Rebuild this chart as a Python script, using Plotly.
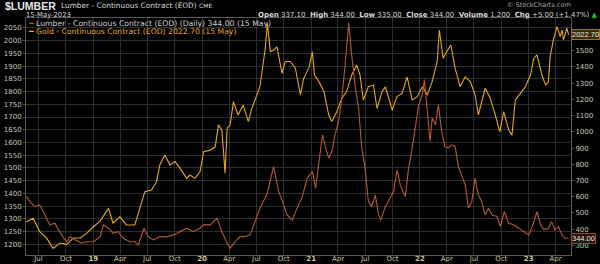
import plotly.graph_objects as go

# ---------------- data ----------------
gold_dates = [
    "2018-05-22", "2018-06-13", "2018-07-05", "2018-07-28", "2018-08-19", "2018-09-11",
    "2018-10-04", "2018-10-26", "2018-11-18", "2018-12-10", "2018-12-27", "2019-01-24",
    "2019-02-21", "2019-03-08", "2019-03-31", "2019-04-22", "2019-05-20", "2019-06-01",
    "2019-06-23", "2019-07-15", "2019-08-01", "2019-08-12", "2019-08-29", "2019-09-15",
    "2019-10-02", "2019-10-19", "2019-11-10", "2019-11-21", "2019-12-08", "2019-12-25",
    "2020-01-06", "2020-01-28", "2020-02-14", "2020-02-25", "2020-03-07", "2020-03-12",
    "2020-03-18", "2020-03-25", "2020-04-04", "2020-04-15", "2020-05-01", "2020-05-18",
    "2020-06-04", "2020-06-16", "2020-06-27", "2020-07-13", "2020-07-31", "2020-08-07",
    "2020-08-17", "2020-08-28", "2020-09-08", "2020-09-25", "2020-10-06", "2020-10-23",
    "2020-11-09", "2020-11-26", "2020-12-07", "2020-12-24", "2021-01-05", "2021-01-12",
    "2021-01-27", "2021-02-13", "2021-03-01", "2021-03-11", "2021-03-28", "2021-04-14",
    "2021-04-30", "2021-05-17", "2021-06-03", "2021-06-14", "2021-06-25", "2021-07-12",
    "2021-07-29", "2021-08-10", "2021-08-27", "2021-09-07", "2021-09-30", "2021-10-16",
    "2021-11-02", "2021-11-19", "2021-12-06", "2021-12-23", "2022-01-09", "2022-01-26",
    "2022-02-11", "2022-02-28", "2022-03-07", "2022-03-20", "2022-04-01", "2022-04-15",
    "2022-04-29", "2022-05-16", "2022-06-02", "2022-06-19", "2022-07-05", "2022-07-16",
    "2022-08-08", "2022-08-25", "2022-09-11", "2022-09-26", "2022-10-09", "2022-10-26",
    "2022-11-06", "2022-11-17", "2022-12-04", "2022-12-21", "2023-01-07", "2023-01-18",
    "2023-01-29", "2023-02-16", "2023-02-27", "2023-03-08", "2023-03-14", "2023-03-25",
    "2023-04-06", "2023-04-17", "2023-04-23", "2023-04-28", "2023-05-09", "2023-05-15",
]
gold_values = [
    1289, 1302, 1250, 1225, 1184, 1205,
    1200, 1225, 1225, 1244, 1263, 1292,
    1341, 1283, 1308, 1276, 1276, 1322,
    1407, 1413, 1446, 1512, 1551, 1512,
    1525, 1499, 1459, 1472, 1459, 1485,
    1564, 1570, 1583, 1669, 1649, 1577,
    1479, 1656, 1669, 1760, 1708, 1747,
    1682, 1734, 1767, 1819, 1970, 2068,
    1957, 1963, 1976, 1872, 1918, 1918,
    1892, 1787, 1852, 1892, 1957, 1865,
    1839, 1800, 1708, 1682, 1721, 1774,
    1800, 1865, 1904, 1865, 1767, 1819,
    1826, 1734, 1800, 1819, 1728, 1780,
    1793, 1858, 1767, 1780, 1819, 1787,
    1839, 1918, 2042, 1931, 1957, 1983,
    1892, 1819, 1858, 1839, 1787, 1708,
    1813, 1774, 1708, 1642, 1721, 1649,
    1629, 1767, 1793, 1819, 1865, 1931,
    1944, 1858, 1826, 1837, 1937, 2003,
    2055, 2016, 2042, 2003, 2049, 2022.7,
]

lumber_dates = [
    "2018-05-22", "2018-06-02", "2018-06-19", "2018-07-05", "2018-07-22", "2018-08-08",
    "2018-08-25", "2018-09-06", "2018-09-23", "2018-10-04", "2018-10-15", "2018-11-01",
    "2018-11-24", "2018-12-10", "2019-01-02", "2019-01-24", "2019-02-04", "2019-02-21",
    "2019-03-08", "2019-03-25", "2019-04-11", "2019-05-03", "2019-05-20", "2019-06-01",
    "2019-06-12", "2019-06-20", "2019-07-04", "2019-07-21", "2019-08-12", "2019-09-05",
    "2019-09-27", "2019-10-19", "2019-11-10", "2019-12-02", "2019-12-25", "2020-01-06",
    "2020-01-28", "2020-02-20", "2020-03-07", "2020-03-23", "2020-04-04", "2020-04-21",
    "2020-05-07", "2020-05-24", "2020-06-10", "2020-06-27", "2020-07-13", "2020-08-05",
    "2020-08-28", "2020-09-14", "2020-09-25", "2020-10-12", "2020-10-29", "2020-11-15",
    "2020-12-02", "2020-12-19", "2021-01-05", "2021-01-16", "2021-01-27", "2021-02-08",
    "2021-02-19", "2021-03-01", "2021-03-11", "2021-03-22", "2021-04-03", "2021-04-14",
    "2021-04-25", "2021-05-07", "2021-05-17", "2021-05-28", "2021-06-09", "2021-06-20",
    "2021-07-01", "2021-07-12", "2021-07-23", "2021-08-04", "2021-08-15", "2021-08-23",
    "2021-09-07", "2021-09-24", "2021-10-05", "2021-10-16", "2021-10-27", "2021-11-13",
    "2021-11-24", "2021-12-06", "2021-12-17", "2021-12-28", "2022-01-09", "2022-01-16",
    "2022-01-26", "2022-02-04", "2022-02-11", "2022-02-22", "2022-03-04", "2022-03-15",
    "2022-03-26", "2022-04-07", "2022-04-18", "2022-04-29", "2022-05-10", "2022-05-21",
    "2022-06-02", "2022-06-13", "2022-06-24", "2022-07-05", "2022-07-16", "2022-07-27",
    "2022-08-08", "2022-08-19", "2022-08-31", "2022-09-17", "2022-09-28", "2022-10-11",
    "2022-10-26", "2022-11-12", "2022-11-29", "2022-12-15", "2023-01-01", "2023-01-13",
    "2023-01-29", "2023-02-10", "2023-02-21", "2023-03-08", "2023-03-19", "2023-03-30",
    "2023-04-11", "2023-04-23", "2023-05-03", "2023-05-15",
]
lumber_values = [
    601, 570, 539, 550, 488, 427,
    437, 396, 344, 323, 354, 334,
    314, 323, 323, 354, 427, 406,
    375, 385, 344, 323, 323, 303,
    365, 406, 354, 334, 354, 354,
    365, 385, 406, 385, 406, 427,
    427, 468, 385, 323, 283, 323,
    354, 354, 365, 447, 530, 612,
    786, 632, 581, 488, 457, 530,
    601, 715, 756, 653, 817, 982,
    900, 838, 879, 982, 1064, 1209,
    1414, 1672, 1476, 1291, 1147, 900,
    777, 570, 539, 612, 488, 457,
    539, 601, 632, 766, 673, 601,
    777, 900, 1044, 1167, 1229, 1322,
    1126, 941, 1085, 1044, 1167, 1002,
    910, 900, 920, 910, 786, 735,
    673, 530, 570, 715, 612, 570,
    488, 530, 488, 478, 416, 509,
    437, 427, 406, 385, 365, 416,
    509, 427, 396, 406, 447, 396,
    416, 365, 344, 344,
]

x_tick_dates = [
    "2018-07-01", "2018-10-01", "2019-01-01", "2019-04-01", "2019-07-01", "2019-10-01",
    "2020-01-01", "2020-04-01", "2020-07-01", "2020-10-01", "2021-01-01", "2021-04-01",
    "2021-07-01", "2021-10-01", "2022-01-01", "2022-04-01", "2022-07-01", "2022-10-01",
    "2023-01-01", "2023-04-01",
]
x_tick_labels = [
    "Jul", "Oct", "<b>19</b>", "Apr", "Jul", "Oct",
    "<b>20</b>", "Apr", "Jul", "Oct", "<b>21</b>", "Apr",
    "Jul", "Oct", "<b>22</b>", "Apr", "Jul", "Oct",
    "<b>23</b>", "Apr",
]
gold_ticks = list(range(1200, 2051, 50))
lumber_ticks = list(range(300, 1501, 100))

# ---------------- style ----------------
GOLD = "#e6a81a"
LUMBER = "#b65a2e"
GRID = "#2e2e2e"
FRAME = "#5a5a5a"
TICKC = "#c8c8b8"
FONT = "DejaVu Sans"

W, H = 600, 264
ML, MR, MT, MB = 26, 29, 18, 9
PW, PH = W - ML - MR, H - MT - MB


def px(x):
    return (x - ML) / PW


def py(y):
    return (H - MB - y) / PH


fig = go.Figure()
fig.add_trace(go.Scatter(x=gold_dates, y=gold_values, mode="lines", yaxis="y",
                         line=dict(color=GOLD, width=1.1), hoverinfo="skip"))
fig.add_trace(go.Scatter(x=lumber_dates, y=lumber_values, mode="lines", yaxis="y2",
                         line=dict(color=LUMBER, width=1.1), hoverinfo="skip"))

fig.update_layout(
    width=W, height=H,
    margin=dict(l=ML, r=MR, t=MT, b=MB, autoexpand=False),
    paper_bgcolor="#000000", plot_bgcolor="#000000",
    showlegend=False,
    font=dict(family=FONT, size=7, color=TICKC),
    xaxis=dict(type="date", range=["2018-05-20", "2023-05-23"],
               tickvals=x_tick_dates, ticktext=x_tick_labels,
               showgrid=True, gridcolor=GRID, gridwidth=1,
               ticks="", ticklabelstandoff=-3,
               showline=True, linecolor=FRAME, mirror=True, automargin=False,
               tickfont=dict(size=7, color="#cfc79a"), zeroline=False),
    yaxis=dict(range=[1158, 2089], tickvals=gold_ticks,
               showgrid=True, gridcolor=GRID, gridwidth=1,
               ticks="outside", ticklen=2, tickcolor=FRAME,
               showline=True, linecolor=FRAME, mirror=True, automargin=False,
               tickfont=dict(size=7, color=TICKC), zeroline=False),
    yaxis2=dict(range=[241, 1702], tickvals=lumber_ticks, overlaying="y", side="right",
                showgrid=False, ticks="outside", ticklen=2, tickcolor=FRAME, automargin=False,
                tickfont=dict(size=7, color=TICKC), zeroline=False, showline=False),
)

anns = []
# header
anns.append(dict(xref="paper", yref="paper", x=px(4), y=py(5.5), xanchor="left", yanchor="middle",
                 text="<b>$LUMBER</b>", font=dict(family="Liberation Sans", size=10.5, color="#e8e8e8"),
                 showarrow=False, borderpad=0))
anns.append(dict(xref="paper", yref="paper", x=px(60), y=py(6), xanchor="left", yanchor="middle",
                 text="Lumber - Continuous Contract (EOD) <span style='font-size:6px'>CME</span>",
                 font=dict(size=7.4, color="#d8d8d8"), showarrow=False, borderpad=0))
anns.append(dict(xref="paper", yref="paper", x=px(25), y=py(15), xanchor="left", yanchor="middle",
                 text="15-May-2023", font=dict(size=6.8, color="#d8d8d8"), showarrow=False, borderpad=0))
anns.append(dict(xref="paper", yref="paper", x=px(599), y=py(14.5), xanchor="right", yanchor="middle",
                 text="<b>Open</b> 337.10  <b>High</b> 344.00  <b>Low</b> 335.00  <b>Close</b> 344.00  "
                      "<b>Volume</b> 1,200  <b>Chg</b> +5.00 (+1.47%) <span style='color:#22c022'>▲</span>",
                 font=dict(size=7, color="#d8d8d8"), showarrow=False, borderpad=0))
anns.append(dict(xref="paper", yref="paper", x=px(572), y=py(5), xanchor="right", yanchor="middle",
                 text="© StockCharts.com", font=dict(size=6.5, color="#a8a8a8"), showarrow=False,
                 borderpad=0))
# legend
anns.append(dict(xref="paper", yref="paper", x=px(27), y=py(23.5), xanchor="left", yanchor="middle",
                 text=f"<span style='color:{LUMBER}'>━</span> Lumber - Continuous Contract (EOD) (Daily) 344.00 (15 May)",
                 font=dict(size=7.7, color="#d0d0d0"), showarrow=False, borderpad=0))
anns.append(dict(xref="paper", yref="paper", x=px(27), y=py(31.5), xanchor="left", yanchor="middle",
                 text=f"<span style='color:{GOLD}'>━</span> Gold - Continuous Contract (EOD) 2022.70 (15 May)",
                 font=dict(size=7.7, color=GOLD), showarrow=False, borderpad=0))
# last-value tags
anns.append(dict(xref="paper", yref="y", x=1.0, y=gold_values[-1], xanchor="left", yanchor="middle",
                 xshift=0, text="2022.70", font=dict(family="Liberation Sans", size=7.5, color="#e8e8e8"),
                 bgcolor="#3a2c08", bordercolor="#9a7420", borderwidth=1, borderpad=0,
                 showarrow=False))
anns.append(dict(xref="paper", yref="y2", x=1.0, y=lumber_values[-1], xanchor="left", yanchor="middle",
                 xshift=0, text="344.00", font=dict(family="Liberation Sans", size=7.5, color="#e8e8e8"),
                 bgcolor="#2a140a", bordercolor="#9a4520", borderwidth=1, borderpad=0,
                 showarrow=False))
fig.update_layout(annotations=anns)

fig.write_html("out.html")
